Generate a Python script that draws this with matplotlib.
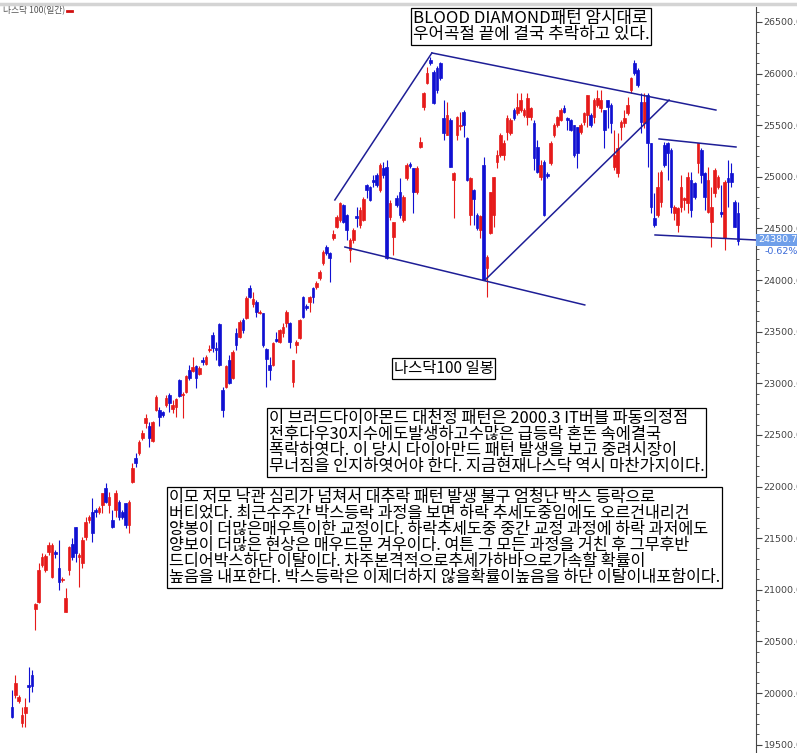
import numpy as np
import matplotlib
matplotlib.use("Agg")
import matplotlib.pyplot as plt
from matplotlib.ticker import MultipleLocator, FormatStrFormatter

plt.rcParams['font.family'] = ['Noto Sans CJK KR', 'DejaVu Sans']

# 나스닥100 일봉 (시가/고가/저가/종가)
opens = [
    19864, 19981, 19922, 19709, 19806, 20078, 20175, 20814, 20882, 21240,
    21192, 21366, 21124, 21366, 21211, 21095, 20785, 21192, 21443, 21608,
    21317, 21259, 21511, 21676, 21753, 21773, 21753, 21821, 21985, 21821,
    21676, 21773, 21850, 21753, 21840, 21628, 22044, 22276, 22325, 22470,
    22616, 22587, 22441, 22741, 22741, 22722, 22789, 22886, 22751, 22770,
    23032, 22886, 22915, 23129, 23119, 23168, 23090, 23226, 23187, 23323,
    23468, 23342, 23574, 22935, 22964, 23226, 23051, 23487, 23449, 23613,
    23632, 23923, 23768, 23788, 23681, 23681, 23332, 23177, 23177, 23429,
    23400, 23487, 23584, 23584, 23013, 23371, 23439, 23836, 23749, 23788,
    23923, 23933, 24020, 24165, 24320, 24262, 24407, 24514, 24582, 24727,
    24630, 24291, 24388, 24620, 24533, 24582, 24921, 24901, 24969, 25018,
    24872, 25086, 25095, 24611, 24417, 24795, 24853, 24582, 24989, 25124,
    25086, 24853, 25289, 25676, 25909, 26132, 26016, 26054, 26103, 25570,
    25405, 25551, 24969, 25405, 25492, 25628, 25376, 24630, 24872, 24630,
    24485, 25115, 24117, 24456, 24630, 25144, 25211, 25211, 25434, 25425,
    25647, 25618, 25647, 25599, 25580, 25580, 25522, 25289, 24998, 25144,
    25027, 25134, 25405, 25502, 25551, 25667, 25570, 25551, 25502, 25483,
    25434, 25531, 25599, 25599, 25580, 25696, 25667, 25647, 25744, 25696,
    25095, 25037, 25483, 25522, 25618, 25841, 26103, 26035, 25725, 25522,
    25793, 25328, 24601, 24630, 24757, 25308, 25328, 25260, 24650, 24533,
    24708, 24776, 24747, 24969, 24940, 25134, 25260, 25037, 24659, 24563,
    24843, 24901, 24659, 24407, 24989, 25037, 24757, 24650]
highs = [
    20029, 20175, 19981, 19864, 19952, 20252, 20223, 20872, 21259, 21356,
    21346, 21463, 21453, 21385, 21482, 21124, 21017, 21424, 21501, 21608,
    21356, 21511, 21705, 21724, 21889, 21792, 21811, 21937, 22034, 21947,
    21773, 21966, 21870, 21773, 21840, 21870, 22228, 22325, 22451, 22548,
    22703, 22626, 22635, 22886, 22770, 22732, 22886, 22906, 22838, 22857,
    23042, 22915, 23080, 23177, 23255, 23177, 23168, 23255, 23274, 23371,
    23497, 23400, 23584, 22964, 23177, 23274, 23323, 23536, 23613, 23632,
    23846, 23952, 23884, 23807, 23710, 23681, 23342, 23255, 23400, 23497,
    23526, 23584, 23710, 23594, 23226, 23419, 23623, 23846, 23768, 23846,
    23933, 23991, 24098, 24291, 24340, 24272, 24485, 24630, 24757, 24737,
    24640, 24407, 24504, 24708, 24708, 24805, 24930, 24911, 25018, 25037,
    25134, 25144, 25163, 24776, 24563, 24824, 24989, 24824, 25134, 25144,
    25086, 25105, 25386, 25822, 26064, 26161, 26035, 26074, 26113, 25744,
    25725, 25570, 25047, 25589, 25628, 25647, 25386, 24998, 24882, 24650,
    24630, 25192, 24243, 24853, 24998, 25260, 25425, 25357, 25599, 25570,
    25667, 25812, 25812, 25667, 25812, 25676, 25551, 25357, 25163, 25163,
    25047, 25347, 25522, 25589, 25667, 25696, 25580, 25560, 25502, 25483,
    25522, 25628, 25793, 25618, 25764, 25841, 25841, 25647, 25744, 25715,
    25454, 25425, 25551, 25647, 25773, 25967, 26132, 26054, 25812, 25812,
    25812, 25328, 24843, 25047, 25066, 25337, 25337, 25279, 24727, 24708,
    25018, 24805, 25047, 25047, 24950, 25328, 25279, 25047, 25095, 24901,
    25086, 25018, 24921, 24969, 25163, 25134, 24776, 24757]
lows = [
    19758, 19952, 19903, 19670, 19670, 19913, 20010, 20610, 20872, 21220,
    21173, 21337, 21114, 21308, 20998, 21076, 20785, 21143, 21288, 21269,
    21027, 21211, 21482, 21647, 21463, 21705, 21734, 21744, 21840, 21744,
    21599, 21705, 21676, 21686, 21599, 21550, 22034, 22189, 22305, 22451,
    22567, 22383, 22432, 22732, 22587, 22674, 22770, 22722, 22712, 22674,
    22867, 22664, 22906, 23032, 23110, 22954, 23080, 23177, 23177, 23303,
    23303, 23226, 23168, 22674, 22954, 22993, 23042, 23323, 23439, 23487,
    23623, 23826, 23739, 23642, 23671, 23352, 22964, 23032, 23168, 23400,
    23390, 23449, 23545, 23342, 22964, 23294, 23429, 23632, 23710, 23691,
    23778, 23914, 24001, 24146, 24243, 23981, 24388, 24504, 24563, 24553,
    24388, 24175, 24359, 24514, 24504, 24572, 24795, 24766, 24901, 24901,
    24853, 24988, 24204, 24582, 24243, 24708, 24601, 24563, 24969, 25086,
    24650, 24834, 25279, 25647, 25899, 26083, 25705, 25812, 25938, 25357,
    25405, 25095, 24601, 25357, 25454, 25386, 24960, 24533, 24533, 24485,
    24407, 24001, 23836, 24446, 24514, 25086, 25192, 25163, 25357, 25405,
    25551, 25599, 25628, 25580, 25502, 25551, 25066, 25037, 24969, 24620,
    24989, 25115, 25386, 25483, 25541, 25618, 25454, 25444, 25192, 25086,
    25415, 25502, 25483, 25483, 25522, 25676, 25628, 25279, 25473, 25425,
    25066, 24998, 25357, 25483, 25599, 25812, 25986, 25870, 25425, 25473,
    25095, 24650, 24514, 24611, 24708, 25095, 24969, 24650, 24582, 24466,
    24659, 24679, 24650, 24611, 24786, 25037, 24940, 24679, 24650, 24320,
    24805, 24882, 24611, 24291, 24708, 24901, 24514, 24340]
closes = [
    19767, 20097, 19961, 19787, 19864, 20058, 20068, 20862, 21192, 21317,
    21327, 21434, 21434, 21346, 21076, 21105, 20920, 21415, 21317, 21356,
    21337, 21482, 21657, 21705, 21550, 21753, 21792, 21937, 21850, 21898,
    21608, 21937, 21705, 21705, 21628, 21850, 22179, 22228, 22432, 22519,
    22664, 22470, 22626, 22867, 22674, 22693, 22857, 22809, 22789, 22848,
    22877, 22896, 23071, 23051, 23158, 23051, 23148, 23206, 23255, 23332,
    23342, 23323, 23177, 22741, 23168, 23003, 23303, 23371, 23594, 23516,
    23826, 23836, 23817, 23691, 23691, 23371, 23235, 23129, 23390, 23410,
    23516, 23545, 23691, 23400, 23226, 23400, 23613, 23642, 23729, 23836,
    23836, 23972, 24078, 24272, 24262, 24214, 24446, 24611, 24747, 24563,
    24485, 24388, 24485, 24601, 24679, 24786, 24872, 24776, 24950, 24921,
    25115, 25018, 24214, 24747, 24563, 24727, 24630, 24805, 25115, 25105,
    24853, 25086, 25337, 25812, 26006, 26103, 25715, 25841, 25958, 25425,
    25599, 25095, 25037, 25580, 25502, 25502, 24969, 24989, 24786, 24504,
    24620, 24001, 24224, 24853, 24998, 25211, 25405, 25328, 25570, 25551,
    25570, 25676, 25744, 25647, 25764, 25667, 25183, 25047, 25115, 24630,
    25008, 25328, 25502, 25580, 25647, 25628, 25551, 25454, 25212, 25231,
    25502, 25618, 25793, 25502, 25744, 25764, 25744, 25454, 25676, 25522,
    25212, 25279, 25531, 25570, 25696, 25958, 26006, 25890, 25531, 25725,
    25328, 24708, 24533, 24901, 25047, 25115, 25231, 24708, 24708, 24698,
    24901, 24795, 24998, 24679, 24805, 25328, 25018, 24805, 24969, 24708,
    25066, 24998, 24640, 24950, 24950, 24950, 24514, 24380.75]

last_price = "24380.75"
last_change = "-0.62%"

# 추세선 (봉 번호, 가격)
trend_lines = [
    [(96.5, 24776), (125.5, 26200)],
    [(125.5, 26200), (210.4, 25647)],
    [(99.5, 24320), (171.2, 23759)],
    [(141.4, 24001), (196.4, 25744)],
    [(193.4, 25367), (216.4, 25289)],
    [(192.2, 24437), (222.4, 24388)],
]

title = "나스닥 100(일간)"
memo_top = "BLOOD DIAMOND패턴 암시대로\n우어곡절 끝에 결국 추락하고 있다."
memo_name = "나스닥100 일봉"
memo_mid = ("이 브러드다이아몬드 대천정 패턴은 2000.3 IT버블 파동의정점\n"
            "전후다우30지수에도발생하고수많은 급등락 혼돈 속에결국\n"
            "폭락하엿다. 이 당시 다이아만드 패턴 발생을 보고 중려시장이\n"
            "무너짐을 인지하엿어야 한다. 지금현재나스닥 역시 마찬가지이다.")
memo_low = ("이모 저모 낙관 심리가 넘쳐서 대추락 패턴 발생 불구 엄청난 박스 등락으로\n"
            "버티었다. 최근수주간 박스등락 과정을 보면 하락 추세도중임에도 오르건내리건\n"
            "양봉이 더많은매우특이한 교정이다. 하락추세도중 중간 교정 과정에 하락 과저에도\n"
            "양보이 더많은 현상은 매우드문 겨우이다. 여튼 그 모든 과정을 거친 후 그무후반\n"
            "드디어박스하단 이탈이다. 차주본격적으로추세가하바으로가속할 확률이\n"
            "높음을 내포한다. 박스등락은 이제더하지 않을확률이높음을 하단 이탈이내포함이다.")

W, H = 797, 753
RED = "#e61a1a"
BLUE = "#1010d2"
LINE = "#1e1e96"

fig = plt.figure(figsize=(W / 100, H / 100), dpi=100)
ax = fig.add_axes([0, 0, 756 / W, (H - 7) / H])

o = np.array(opens, dtype=float)
hi = np.array(highs, dtype=float)
lo = np.array(lows, dtype=float)
c = np.array(closes, dtype=float)
x = np.arange(len(o))
col = np.where(c >= o, RED, BLUE)

ax.vlines(x, lo, hi, colors=col, lw=0.8)
ax.bar(x, c - o, bottom=o, width=0.8, color=col, edgecolor=col, lw=0.5)

for seg in trend_lines:
    xs, ys = zip(*seg)
    ax.plot(xs, ys, color=LINE, lw=1.1, clip_on=False)

step = (738 - 12) / (len(o) - 1)
ax.set_xlim(-12 / step, 744 / step)
ax.set_ylim(19419, 26645)

for s in ["left", "top", "bottom"]:
    ax.spines[s].set_visible(False)
ax.spines["right"].set_color("#444444")
ax.spines["right"].set_linewidth(0.8)
ax.set_xticks([])
ax.yaxis.tick_right()
ax.yaxis.set_major_locator(MultipleLocator(500))
ax.yaxis.set_minor_locator(MultipleLocator(100))
ax.yaxis.set_major_formatter(FormatStrFormatter("%.2f"))
ax.tick_params(axis="y", which="major", length=4, width=0.8, color="#444444",
               labelsize=6.8, labelcolor="#444444", pad=1.5)
ax.tick_params(axis="y", which="minor", length=2, width=0.6, color="#444444")
for t in ax.get_yticklabels():
    t.set_family("DejaVu Sans")


def fx(px):
    return px / W


def fy(py):
    return 1 - py / H


# 상단 회색 띠
fig.add_artist(plt.Line2D([0, fx(795)], [fy(4), fy(4)], color="#d4d4d4", lw=2.5))

fig.text(fx(3), fy(11), title, fontsize=6.3, color="#555555", va="center")
fig.add_artist(plt.Line2D([fx(67), fx(72)], [fy(11), fy(11)], color="#d01010", lw=2))

box = dict(boxstyle="square,pad=0.1", fc="white", ec="black", lw=0.9)
fig.text(fx(413), fy(10), memo_top, fontsize=12.1, va="top", ha="left",
         linespacing=0.92, bbox=box)
fig.text(fx(394), fy(360), memo_name, fontsize=11.1, va="top", ha="left",
         bbox=box)
fig.text(fx(269), fy(410), memo_mid, fontsize=11.8, va="top", ha="left",
         linespacing=0.93, bbox=box)
fig.text(fx(169), fy(489), memo_low, fontsize=11.7, va="top", ha="left",
         linespacing=0.93, bbox=box)

# 현재가 표시
fig.text(fx(758), fy(240), last_price, fontsize=6.8, color="white",
         family="DejaVu Sans", va="center", ha="left",
         bbox=dict(boxstyle="square,pad=0.2", fc="#6f9fea", ec="none"))
fig.text(fx(765), fy(252), last_change, fontsize=6.8, color="#3a6ad8",
         family="DejaVu Sans", va="center", ha="left")

fig.savefig("out.png", dpi=100)
